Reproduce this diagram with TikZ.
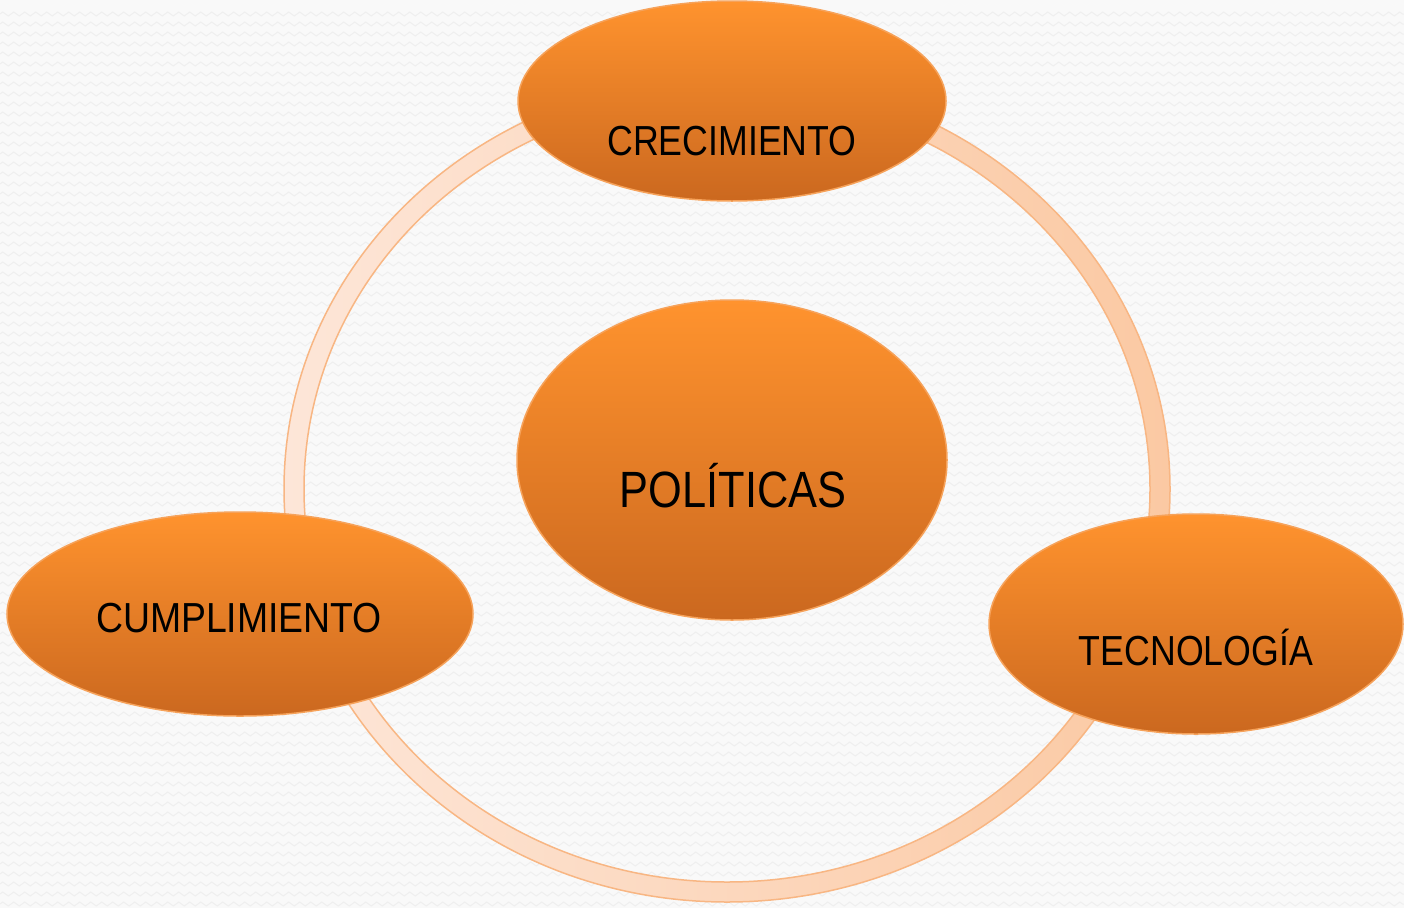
\documentclass[tikz,border=0pt]{standalone}
\usepackage{fontspec}
\usetikzlibrary{shapes.geometric,decorations.pathmorphing}
\newfontfamily\narrowfont[FakeStretch=0.85]{Liberation Sans}
\newfontfamily\midfont[FakeStretch=0.89]{Liberation Sans}
\definecolor{bgcol}{HTML}{F9F9F9}
\definecolor{bgzig}{HTML}{EFEFEF}
\definecolor{ringL}{HTML}{FDE6D8}
\definecolor{ringR}{HTML}{FBC9A3}
\definecolor{ringline}{HTML}{F8B683}
\definecolor{orT}{HTML}{FF932E}
\definecolor{orB}{HTML}{CB681F}
\definecolor{orline}{HTML}{F6A25A}
\tikzset{
  blob/.style={ellipse, top color=orT, bottom color=orB, draw=orline, line width=1.5pt, inner sep=0pt},
  lbl/.style={font=\narrowfont\fontsize{42}{44}\selectfont, text=black, anchor=base, inner sep=0pt},
  widelbl/.style={font=\midfont\fontsize{42}{44}\selectfont, text=black, anchor=base, inner sep=0pt},
  biglbl/.style={font=\narrowfont\fontsize{51}{53}\selectfont, text=black, anchor=base, inner sep=0pt}
}
\begin{document}
\begin{tikzpicture}[x=1pt,y=-1pt]
\useasboundingbox (0,0) rectangle (1404,908);
\fill[bgcol] (0,0) rectangle (1404,908);
\foreach \yy in {14,24,...,904}
  \draw[bgzig, line width=1pt, decorate, decoration={zigzag, segment length=11pt, amplitude=2pt}] (0,\yy) -- (1404,\yy);
% ring
\shade[left color=ringL, right color=ringR, even odd rule]
  (727,489) ellipse [x radius=443pt, y radius=413pt]
  (727,489) ellipse [x radius=423pt, y radius=393pt];
\draw[ringline, line width=1.5pt] (727,489) ellipse [x radius=443pt, y radius=413pt];
\draw[ringline, line width=1.5pt] (727,489) ellipse [x radius=423pt, y radius=393pt];
% ellipses
\node[blob, minimum width=428pt, minimum height=200pt] (crec) at (732,101) {};
\node[blob, minimum width=430pt, minimum height=320pt] (pol) at (732,460) {};
\node[blob, minimum width=466pt, minimum height=204pt] (cump) at (240,614) {};
\node[blob, minimum width=414pt, minimum height=220pt] (tec) at (1196,624) {};
% labels
\node[lbl] (crecl) at (732,155) {CRECIMIENTO};
\node[biglbl] (poll) at (733,507) {POLÍTICAS};
\node[widelbl] (cumpl) at (239,632) {CUMPLIMIENTO};
\node[lbl] (tecl) at (1196,665) {TECNOLOGÍA};
\end{tikzpicture}
\end{document}
